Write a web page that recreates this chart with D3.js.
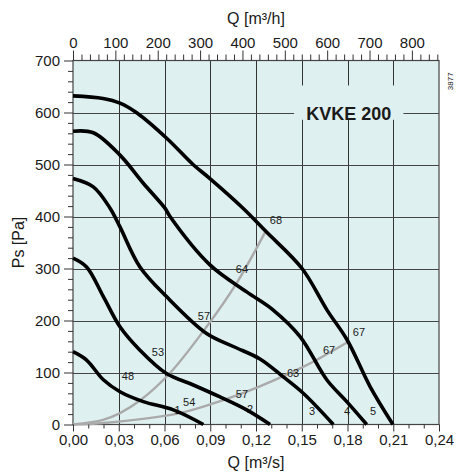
<!DOCTYPE html>
<html>
<head>
<meta charset="utf-8">
<script src="https://cdn.jsdelivr.net/npm/d3@7"></script>
<style>
  html, body { margin: 0; padding: 0; background: #ffffff; }
  svg { display: block; }
  text { font-family: "Liberation Sans", Arial, sans-serif; fill: #1a1a1a; }
</style>
</head>
<body>
<svg id="chart" width="457" height="472"></svg>
<script>
// ---------------- DATA ----------------
const title = "KVKE 200";
const docNumber = "3877";
const xTitleTop = "Q [m³/h]";
const xTitleBottom = "Q [m³/s]";
const yTitle = "Ps [Pa]";

const qDomain = [0, 0.24];          // m³/s
const pDomain = [0, 700];           // Pa
const qhDomain = [0, 864];          // m³/h (0.24 * 3600)

const bottomTicks = [0, 0.03, 0.06, 0.09, 0.12, 0.15, 0.18, 0.21, 0.24];
const bottomMinor = [0.01,0.02,0.04,0.05,0.07,0.08,0.10,0.11,0.13,0.14,0.16,0.17,0.19,0.20,0.22,0.23];
const topTicks = [0, 100, 200, 300, 400, 500, 600, 700, 800];
const topMinor = [20,40,60,80,120,140,160,180,220,240,260,280,320,340,360,380,420,440,460,480,520,540,560,580,620,640,660,680,720,740,760,780,820,840,860];
const leftTicks = [0, 100, 200, 300, 400, 500, 600, 700];
const leftMinor = [20,40,60,80,120,140,160,180,220,240,260,280,320,340,360,380,420,440,460,480,520,540,560,580,620,640,660,680];

// fan curves (speed steps 1..5): [Q m³/s, Ps Pa]
const curve5 = [[0,632],[0.0197,627],[0.0308,618],[0.042,599],[0.0616,550],[0.0787,500],[0.0898,473],[0.1115,416],[0.1266,371],[0.1502,300],[0.1666,220],[0.1797,163],[0.1948,73],[0.2098,0]];
const curve4 = [[0,564],[0.0133,561],[0.0308,518],[0.0461,464],[0.0603,416],[0.0636,400],[0.0898,307],[0.1139,255],[0.1313,220],[0.1489,169],[0.1664,86],[0.1795,44],[0.1926,0]];
const curve3 = [[0,473],[0.0133,457],[0.0243,416],[0.0308,380],[0.0439,303],[0.0613,246],[0.0876,175],[0.1051,150],[0.1226,126],[0.1377,92],[0.1510,60],[0.1707,0]];
const curve2 = [[0,320],[0.0089,303],[0.0199,246],[0.0308,188],[0.0439,143],[0.0613,98],[0.0789,76],[0.0964,53],[0.1139,28],[0.1292,0]];
const curve1 = [[0,140],[0.0089,124],[0.0199,86],[0.0308,63],[0.0461,44],[0.0658,28],[0.0855,0]];
const fanCurves = [curve1, curve2, curve3, curve4, curve5];
const fanNames = ["1", "2", "3", "4", "5"];
const fanNameAt = [[0.0685,27],[0.1161,30],[0.1567,26],[0.1797,26],[0.1967,26]];

// system curves (grey)
const systemSteep = [[0,0],[0.0197,9],[0.0308,22],[0.0439,46],[0.0636,99],[0.0876,188],[0.1073,272],[0.1262,371]];
const systemFlat = [[0,0],[0.0199,3],[0.0702,22],[0.0986,47],[0.1139,63],[0.1489,108],[0.1597,124],[0.1805,159]];

// sound levels along the system curves: [Q, Ps, label]
const soundSteep = [[0.036,93,"48"],[0.0557,139,"53"],[0.0859,209,"57"],[0.1108,299,"64"],[0.1331,393,"68"]];
const soundFlat = [[0.0762,43,"54"],[0.1108,59,"57"],[0.1443,99,"63"],[0.1679,143,"67"],[0.1875,178,"67"]];

// ---------------- LAYOUT ----------------
const svg = d3.select("#chart");
const mLeft = 73, mRight = 439, mTop = 60.5, mBottom = 424.5;

const x = d3.scaleLinear().domain(qDomain).range([mLeft, mRight]);
const xh = d3.scaleLinear().domain(qhDomain).range([mLeft, mRight]);
const y = d3.scaleLinear().domain(pDomain).range([mBottom, mTop]);

// background
svg.append("rect").attr("x", mLeft).attr("y", mTop)
  .attr("width", mRight - mLeft).attr("height", mBottom - mTop)
  .attr("fill", "#dff0f0");

// grid
const grid = svg.append("g").attr("stroke", "#333").attr("stroke-width", 1).attr("shape-rendering", "crispEdges");
grid.selectAll("line.v").data(bottomTicks.slice(1, -1)).join("line")
  .attr("x1", d => Math.round(x(d)) + 0.5).attr("x2", d => Math.round(x(d)) + 0.5)
  .attr("y1", mTop).attr("y2", mBottom);
grid.selectAll("line.h").data(leftTicks.slice(1, -1)).join("line")
  .attr("x1", mLeft).attr("x2", mRight)
  .attr("y1", d => Math.round(y(d)) + 0.5).attr("y2", d => Math.round(y(d)) + 0.5)
  .attr("stroke", "#444");

// title box (interrupts grid)
const tbx = xh(522), tbw = xh(780) - xh(522);
svg.append("rect").attr("x", tbx).attr("y", y(652)).attr("width", tbw).attr("height", y(586) - y(652))
  .attr("fill", "#dff0f0");
svg.append("text").attr("x", tbx + tbw / 2).attr("y", y(599)).attr("dy", "0.36em")
  .attr("text-anchor", "middle").attr("font-size", 18).attr("font-weight", "bold")
  .text(title);

// frame
svg.append("rect").attr("x", mLeft).attr("y", mTop)
  .attr("width", mRight - mLeft).attr("height", mBottom - mTop)
  .attr("fill", "none").attr("stroke", "#444").attr("stroke-width", 1.2);

const line = d3.line().x(d => x(d[0])).y(d => y(d[1])).curve(d3.curveCatmullRom.alpha(0.5));

// system curves
svg.append("g").selectAll("path").data([systemSteep, systemFlat]).join("path")
  .attr("d", line).attr("fill", "none").attr("stroke", "#aaaaaa").attr("stroke-width", 2.4);

// fan number labels (below curves)
svg.append("g").selectAll("text").data(fanNameAt).join("text")
  .attr("x", d => x(d[0])).attr("y", d => y(d[1])).attr("dy", "0.35em")
  .attr("text-anchor", "middle").attr("font-size", 11)
  .text((d, i) => fanNames[i]);

// fan curves
svg.append("g").selectAll("path").data(fanCurves).join("path")
  .attr("d", line).attr("fill", "none").attr("stroke", "#000").attr("stroke-width", 3.6)
  .attr("stroke-linecap", "butt");

// sound labels
svg.append("g").selectAll("text").data(soundSteep.concat(soundFlat)).join("text")
  .attr("x", d => x(d[0])).attr("y", d => y(d[1])).attr("dy", "0.35em")
  .attr("text-anchor", "middle").attr("font-size", 11)
  .text(d => d[2]);

// ---------------- AXES ----------------
const fmtComma = d => d3.format(".2f")(d).replace(".", ",");

function styleAxis(g) {
  g.select(".domain").remove();
  g.selectAll(".tick line").attr("stroke", "#333");
  g.selectAll(".tick text").attr("font-size", 15).attr("fill", "#1a1a1a")
    .attr("font-family", "'Liberation Sans', Arial, sans-serif");
}

// top
svg.append("g").attr("transform", `translate(0,${mTop})`)
  .call(d3.axisTop(xh).tickValues(topMinor).tickSize(6).tickFormat(""))
  .call(styleAxis);
svg.append("g").attr("transform", `translate(0,${mTop})`)
  .call(d3.axisTop(xh).tickValues(topTicks).tickSize(10).tickPadding(3))
  .call(styleAxis);

// bottom
svg.append("g").attr("transform", `translate(0,${mBottom})`)
  .call(d3.axisBottom(x).tickValues(bottomMinor).tickSize(4).tickFormat(""))
  .call(styleAxis);
svg.append("g").attr("transform", `translate(0,${mBottom})`)
  .call(d3.axisBottom(x).tickValues(bottomTicks).tickSize(7).tickPadding(3).tickFormat(fmtComma))
  .call(styleAxis);

// left
svg.append("g").attr("transform", `translate(${mLeft},0)`)
  .call(d3.axisLeft(y).tickValues(leftMinor).tickSize(5).tickFormat(""))
  .call(styleAxis);
svg.append("g").attr("transform", `translate(${mLeft},0)`)
  .call(d3.axisLeft(y).tickValues(leftTicks).tickSize(9).tickPadding(4))
  .call(styleAxis);

// titles
svg.append("text").attr("x", (mLeft + mRight) / 2).attr("y", 24)
  .attr("text-anchor", "middle").attr("font-size", 16).text(xTitleTop);
svg.append("text").attr("x", (mLeft + mRight) / 2).attr("y", 468)
  .attr("text-anchor", "middle").attr("font-size", 16).text(xTitleBottom);
svg.append("text").attr("transform", `translate(24,${(mTop + mBottom) / 2}) rotate(-90)`)
  .attr("text-anchor", "middle").attr("font-size", 16).text(yTitle);
svg.append("text").attr("transform", `translate(453,${y(660)}) rotate(-90)`)
  .attr("text-anchor", "middle").attr("font-size", 8).text(docNumber);
</script>
</body>
</html>
